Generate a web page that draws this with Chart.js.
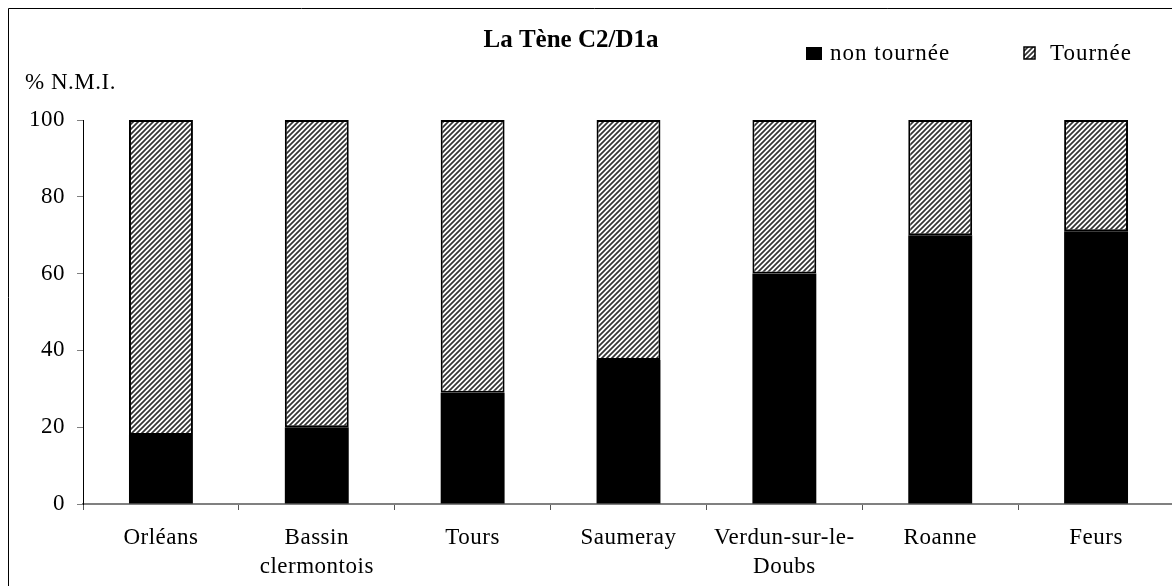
<!DOCTYPE html>
<html>
<head>
<meta charset="utf-8">
<script src="https://cdn.jsdelivr.net/npm/chart.js@4/dist/chart.umd.min.js"></script>
<style>
  html, body { margin: 0; padding: 0; background: #fff; overflow: hidden; }
  #wrap { position: relative; width: 1180px; height: 586px; }
</style>
</head>
<body>
<div id="wrap"><canvas id="c"></canvas></div>
<script>
// Sites (x categories)
const categories = [
  'Orléans',
  ['Bassin', 'clermontois'],
  'Tours',
  'Saumeray',
  ['Verdun-sur-le-', 'Doubs'],
  'Roanne',
  'Feurs'
];
// Share of non-wheel-made vessels (% N.M.I.)
const nonTournee = [18, 20, 29, 37.5, 60, 70, 71];
// Share of wheel-made vessels (% N.M.I.)
const tournee = [82, 80, 71, 62.5, 40, 30, 29];
const yTicks = [0, 20, 40, 60, 80, 100];

const titleText = 'La Tène C2/D1a';
const yUnitText = '% N.M.I.';
const seriesNames = ['non tournée', 'Tournée'];

const SERIF = '"Liberation Serif", "Times New Roman", serif';
const SPACING = '0.5px';

// Diagonal hatch used for the wheel-made series
function makeHatch() {
  const p = 5;
  const t = document.createElement('canvas');
  t.width = p; t.height = p;
  const g = t.getContext('2d');
  g.fillStyle = '#fff';
  g.fillRect(0, 0, p, p);
  g.strokeStyle = '#333';
  g.lineWidth = 1.7;
  g.beginPath();
  g.moveTo(-1, p + 1); g.lineTo(p + 1, -1);
  g.moveTo(-1, 1); g.lineTo(1, -1);
  g.moveTo(p - 1, p + 1); g.lineTo(p + 1, p - 1);
  g.stroke();
  return document.createElement('canvas').getContext('2d').createPattern(t, 'repeat');
}
const hatch = makeHatch();

const spacingPlugin = {
  id: 'spacing',
  beforeUpdate(chart) { chart.ctx.letterSpacing = SPACING; },
  beforeLayout(chart) { chart.ctx.letterSpacing = SPACING; },
  beforeDraw(chart) { chart.ctx.letterSpacing = SPACING; }
};

const decorPlugin = {
  id: 'decor',
  afterDraw(chart) {
    const ctx = chart.ctx;
    ctx.save();
    // frame (left and top edges visible)
    ctx.strokeStyle = '#000';
    ctx.lineWidth = 1;
    ctx.beginPath();
    ctx.moveTo(8.5, 600); ctx.lineTo(8.5, 8.5); ctx.lineTo(1200, 8.5);
    ctx.stroke();

    ctx.fillStyle = '#000';
    ctx.textBaseline = 'alphabetic';
    // title
    ctx.letterSpacing = '0px';
    ctx.font = 'bold 25px ' + SERIF;
    ctx.textAlign = 'center';
    ctx.fillText(titleText, 571, 47);
    // y unit
    ctx.letterSpacing = SPACING;
    ctx.font = '23px ' + SERIF;
    ctx.textAlign = 'left';
    ctx.fillText(yUnitText, 25, 89);

    // legend
    ctx.letterSpacing = '1px';
    const ds = chart.data.datasets;
    ctx.fillStyle = ds[0].backgroundColor;
    ctx.fillRect(806, 47, 16, 13);
    ctx.fillStyle = '#000';
    ctx.fillText(seriesNames[0], 830, 60);

    ctx.fillStyle = ds[1].backgroundColor;
    ctx.fillRect(1024, 47, 11, 12);
    ctx.strokeStyle = '#000';
    ctx.lineWidth = 1.5;
    ctx.strokeRect(1024, 47, 11, 12);
    ctx.fillStyle = '#000';
    ctx.fillText(seriesNames[1], 1050, 60);
    ctx.restore();
  }
};

new Chart(document.getElementById('c'), {
  type: 'bar',
  data: {
    labels: categories,
    datasets: [
      {
        label: seriesNames[0],
        data: nonTournee,
        backgroundColor: '#000',
        borderWidth: 0,
        categoryPercentage: 1,
        barPercentage: 0.41
      },
      {
        label: seriesNames[1],
        data: tournee,
        backgroundColor: hatch,
        borderColor: '#000',
        borderWidth: 2,
        borderSkipped: false,
        categoryPercentage: 1,
        barPercentage: 0.41
      }
    ]
  },
  options: {
    responsive: true,
    maintainAspectRatio: false,
    animation: false,
    devicePixelRatio: 1,
    layout: { padding: { top: 120, right: 6, left: 0, bottom: 0 } },
    plugins: {
      legend: { display: false },
      title: { display: false },
      tooltip: { enabled: false }
    },
    scales: {
      x: {
        stacked: true,
        afterFit(scale) { scale.height = 82; },
        border: { display: true, color: '#808080', width: 2 },
        grid: {
          offset: true,
          drawOnChartArea: false,
          drawTicks: true,
          tickLength: 6,
          color: '#555',
          lineWidth: 1
        },
        ticks: {
          color: '#000',
          maxRotation: 0,
          autoSkip: false,
          padding: 13,
          font: { family: SERIF, size: 23, lineHeight: 1.26 }
        }
      },
      y: {
        stacked: true,
        min: 0,
        max: 100,
        afterFit(scale) { scale.width = 83; },
        afterBuildTicks(scale) { scale.ticks = yTicks.map(v => ({ value: v })); },
        border: { display: true, color: '#000', width: 1 },
        grid: {
          drawOnChartArea: false,
          drawTicks: true,
          tickLength: 6,
          color: '#808080',
          lineWidth: 1
        },
        ticks: {
          color: '#000',
          padding: 12,
          font: { family: SERIF, size: 23 }
        }
      }
    }
  },
  plugins: [spacingPlugin, decorPlugin]
});
</script>
</body>
</html>
